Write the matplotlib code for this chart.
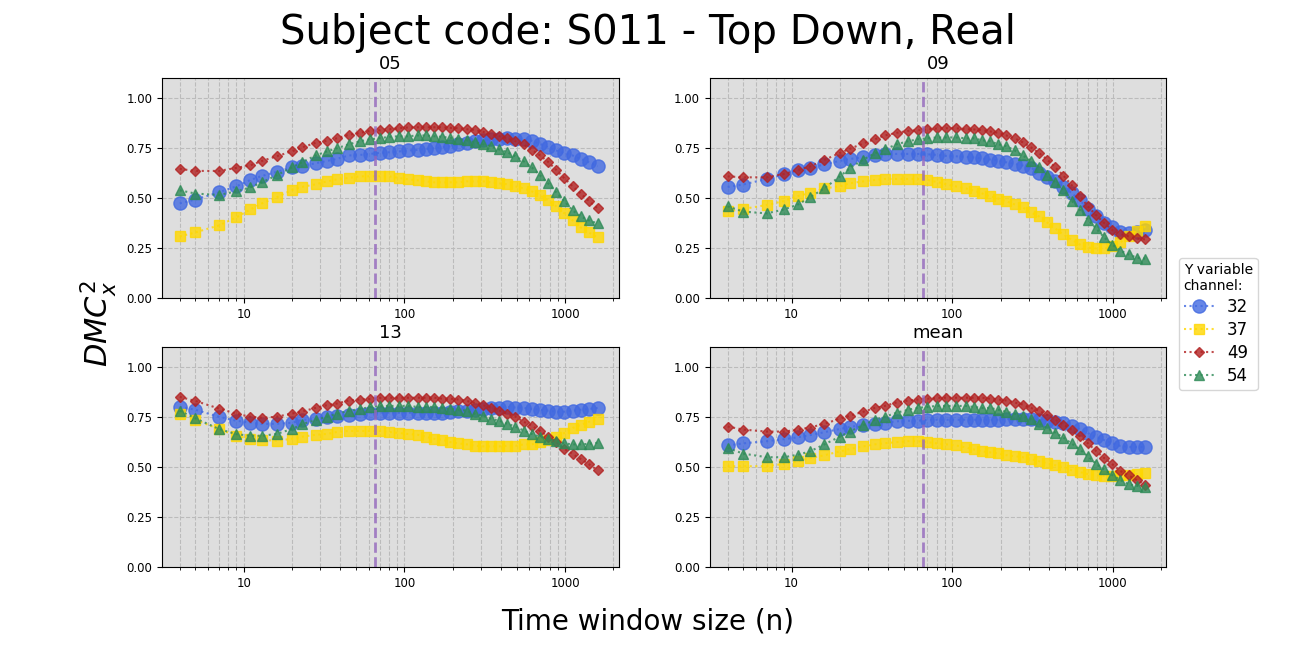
import numpy as np
import matplotlib.pyplot as plt
from matplotlib.ticker import ScalarFormatter, NullFormatter

# time window sizes
n = [4, 5, 7, 9, 11, 13, 16, 20, 23, 28, 33, 38, 45, 53, 61, 70, 80, 92, 105, 121, 136,
     153, 172, 193, 217, 244, 274, 308, 346, 389, 437, 491, 552, 620, 697, 784, 881,
     990, 1113, 1251, 1406, 1592]
n_cut = 66
channels = ['32', '37', '49', '54']

s05 = {
    '32': [0.473, 0.492, 0.528, 0.558, 0.59, 0.61, 0.63, 0.653, 0.66, 0.673, 0.685, 0.695,
           0.712, 0.715, 0.72, 0.725, 0.728, 0.732, 0.737, 0.74, 0.745, 0.748, 0.753,
           0.758, 0.767, 0.773, 0.783, 0.788, 0.792, 0.795, 0.797, 0.795, 0.792, 0.785,
           0.77, 0.753, 0.737, 0.723, 0.712, 0.695, 0.678, 0.658],
    '37': [0.308, 0.328, 0.363, 0.403, 0.443, 0.473, 0.503, 0.54, 0.555, 0.568, 0.583, 0.593,
           0.6, 0.608, 0.608, 0.608, 0.608, 0.6, 0.593, 0.588, 0.583, 0.578, 0.578, 0.578,
           0.578, 0.583, 0.583, 0.583, 0.578, 0.573, 0.568, 0.558, 0.548, 0.533, 0.513,
           0.488, 0.458, 0.423, 0.388, 0.353, 0.328, 0.303],
    '49': [0.645, 0.635, 0.635, 0.65, 0.663, 0.685, 0.708, 0.733, 0.752, 0.775, 0.785, 0.798,
           0.815, 0.825, 0.835, 0.838, 0.843, 0.848, 0.852, 0.853, 0.853, 0.853, 0.853, 0.85,
           0.848, 0.843, 0.84, 0.83, 0.818, 0.808, 0.798, 0.783, 0.767, 0.74, 0.713, 0.68,
           0.64, 0.598, 0.558, 0.522, 0.485, 0.448],
    '54': [0.538, 0.522, 0.515, 0.533, 0.553, 0.578, 0.613, 0.653, 0.678, 0.712, 0.733, 0.748,
           0.768, 0.783, 0.793, 0.798, 0.805, 0.808, 0.808, 0.812, 0.812, 0.808, 0.805, 0.8,
           0.793, 0.788, 0.778, 0.768, 0.758, 0.742, 0.728, 0.708, 0.683, 0.653, 0.613,
           0.573, 0.528, 0.483, 0.438, 0.408, 0.388, 0.373],
}

s09 = {
    '32': [0.555, 0.567, 0.595, 0.618, 0.638, 0.648, 0.668, 0.685, 0.695, 0.703, 0.715, 0.718,
           0.72, 0.72, 0.72, 0.718, 0.715, 0.71, 0.708, 0.705, 0.702, 0.697, 0.692, 0.687,
           0.678, 0.67, 0.662, 0.652, 0.625, 0.607, 0.587, 0.557, 0.525, 0.49, 0.445, 0.412,
           0.375, 0.353, 0.332, 0.323, 0.328, 0.342],
    '37': [0.433, 0.445, 0.465, 0.485, 0.51, 0.525, 0.548, 0.558, 0.573, 0.583, 0.59, 0.595,
           0.595, 0.595, 0.595, 0.59, 0.58, 0.568, 0.558, 0.548, 0.537, 0.523, 0.508, 0.497,
           0.483, 0.468, 0.453, 0.428, 0.408, 0.378, 0.348, 0.318, 0.292, 0.268, 0.253,
           0.248, 0.248, 0.262, 0.278, 0.312, 0.333, 0.358],
    '49': [0.608, 0.603, 0.603, 0.62, 0.64, 0.657, 0.69, 0.725, 0.745, 0.773, 0.793, 0.812,
           0.825, 0.835, 0.838, 0.842, 0.847, 0.848, 0.848, 0.843, 0.842, 0.838, 0.832, 0.825,
           0.812, 0.798, 0.778, 0.753, 0.725, 0.692, 0.653, 0.612, 0.565, 0.512, 0.458,
           0.415, 0.375, 0.34, 0.32, 0.308, 0.298, 0.293],
    '54': [0.458, 0.432, 0.423, 0.443, 0.468, 0.503, 0.548, 0.608, 0.648, 0.692, 0.723, 0.742,
           0.768, 0.783, 0.793, 0.798, 0.802, 0.802, 0.802, 0.798, 0.798, 0.788, 0.783, 0.768,
           0.758, 0.738, 0.712, 0.687, 0.657, 0.615, 0.578, 0.54, 0.487, 0.442, 0.392,
           0.348, 0.303, 0.267, 0.237, 0.218, 0.202, 0.197],
}

s13 = {
    '32': [0.799, 0.785, 0.75, 0.73, 0.72, 0.714, 0.715, 0.72, 0.734, 0.74, 0.75, 0.755,
           0.76, 0.765, 0.77, 0.77, 0.77, 0.77, 0.77, 0.77, 0.77, 0.77, 0.77, 0.775, 0.778,
           0.781, 0.785, 0.789, 0.794, 0.796, 0.799, 0.796, 0.794, 0.789, 0.785, 0.78,
           0.775, 0.775, 0.78, 0.785, 0.789, 0.794],
    '37': [0.765, 0.735, 0.689, 0.655, 0.64, 0.635, 0.63, 0.64, 0.65, 0.66, 0.664, 0.674,
           0.679, 0.679, 0.679, 0.679, 0.674, 0.669, 0.664, 0.66, 0.65, 0.64, 0.635, 0.623,
           0.617, 0.612, 0.605, 0.602, 0.602, 0.602, 0.605, 0.605, 0.612, 0.612, 0.623,
           0.635, 0.65, 0.669, 0.694, 0.709, 0.725, 0.74],
    '49': [0.849, 0.829, 0.791, 0.765, 0.75, 0.745, 0.75, 0.766, 0.776, 0.794, 0.808, 0.816,
           0.831, 0.836, 0.839, 0.844, 0.845, 0.845, 0.845, 0.845, 0.845, 0.845, 0.84, 0.84,
           0.836, 0.829, 0.819, 0.808, 0.796, 0.781, 0.765, 0.75, 0.725, 0.706, 0.679,
           0.651, 0.623, 0.589, 0.564, 0.539, 0.513, 0.483],
    '54': [0.78, 0.742, 0.689, 0.663, 0.655, 0.655, 0.664, 0.689, 0.712, 0.734, 0.75, 0.765,
           0.78, 0.788, 0.799, 0.804, 0.804, 0.804, 0.804, 0.799, 0.799, 0.799, 0.794, 0.789,
           0.785, 0.78, 0.765, 0.755, 0.74, 0.73, 0.715, 0.701, 0.681, 0.664, 0.65, 0.64,
           0.628, 0.617, 0.612, 0.612, 0.615, 0.62],
}

smean = {
    '32': [0.607, 0.617, 0.628, 0.638, 0.648, 0.658, 0.673, 0.689, 0.699, 0.709, 0.715, 0.72,
           0.727, 0.73, 0.73, 0.735, 0.735, 0.735, 0.735, 0.735, 0.735, 0.735, 0.735, 0.735,
           0.738, 0.738, 0.738, 0.738, 0.735, 0.73, 0.725, 0.719, 0.706, 0.689, 0.669,
           0.648, 0.633, 0.617, 0.604, 0.599, 0.599, 0.599],
    '37': [0.503, 0.503, 0.503, 0.515, 0.528, 0.543, 0.558, 0.577, 0.589, 0.602, 0.612, 0.618,
           0.623, 0.628, 0.628, 0.623, 0.617, 0.612, 0.607, 0.597, 0.587, 0.577, 0.572, 0.567,
           0.558, 0.553, 0.548, 0.538, 0.528, 0.518, 0.508, 0.498, 0.483, 0.474, 0.464,
           0.459, 0.454, 0.454, 0.459, 0.459, 0.464, 0.469],
    '49': [0.701, 0.686, 0.676, 0.676, 0.686, 0.696, 0.715, 0.74, 0.755, 0.775, 0.794, 0.804,
           0.821, 0.831, 0.836, 0.84, 0.844, 0.845, 0.845, 0.845, 0.845, 0.845, 0.84, 0.836,
           0.831, 0.821, 0.811, 0.794, 0.781, 0.76, 0.735, 0.711, 0.686, 0.653, 0.618,
           0.579, 0.544, 0.513, 0.479, 0.457, 0.434, 0.41],
    '54': [0.594, 0.566, 0.548, 0.548, 0.561, 0.577, 0.612, 0.651, 0.676, 0.709, 0.735, 0.75,
           0.77, 0.785, 0.794, 0.799, 0.804, 0.804, 0.804, 0.804, 0.799, 0.794, 0.794, 0.785,
           0.775, 0.765, 0.755, 0.738, 0.715, 0.694, 0.671, 0.646, 0.617, 0.587, 0.553,
           0.515, 0.487, 0.459, 0.434, 0.413, 0.405, 0.4],
}

panels = [('05', s05), ('09', s09), ('13', s13), ('mean', smean)]
styles = {
    '32': dict(color='royalblue', marker='o', markersize=9.5),
    '37': dict(color='gold', marker='s', markersize=6.5),
    '49': dict(color='firebrick', marker='D', markersize=5.5),
    '54': dict(color='seagreen', marker='^', markersize=6.5),
}

fig, axes = plt.subplots(2, 2, figsize=(12.96, 6.48), dpi=100)
fig.subplots_adjust(left=0.125, right=0.9, top=0.88, bottom=0.125, wspace=0.2, hspace=0.22)

for ax, (title, data) in zip(axes.flat, panels):
    ax.set_facecolor('#dedede')
    for ch in channels:
        ax.plot(n, data[ch], linestyle=':', alpha=0.8, label=ch, **styles[ch])
    ax.axvline(n_cut, color='tab:purple', linestyle='--', linewidth=2, alpha=0.8)
    ax.set_xscale('log')
    ax.set_xlim(3.1, 2150)
    ax.set_ylim(0, 1.1)
    ax.set_yticks([0, 0.25, 0.5, 0.75, 1.0])
    ax.xaxis.set_major_formatter(ScalarFormatter())
    ax.xaxis.set_minor_formatter(NullFormatter())
    ax.grid(True, which='both', linestyle='--', color='#bbbbbb', linewidth=0.8)
    ax.set_axisbelow(True)
    ax.set_title(title, fontsize=13)
    ax.tick_params(labelsize=8.5)

handles, labels = axes[0, 0].get_legend_handles_labels()
fig.legend(handles, labels, title='Y variable\nchannel:', loc='center left',
           bbox_to_anchor=(0.903, 0.5), fontsize=12, title_fontsize=10,
           alignment='left', handlelength=1.8, borderpad=0.3, labelspacing=0.3)
fig.suptitle('Subject code: S011 - Top Down, Real', fontsize=29)
fig.supxlabel('Time window size (n)', fontsize=20, y=0.02)
fig.supylabel('$DMC_x^2$', fontsize=22, x=0.06)
fig.savefig('out.png')
